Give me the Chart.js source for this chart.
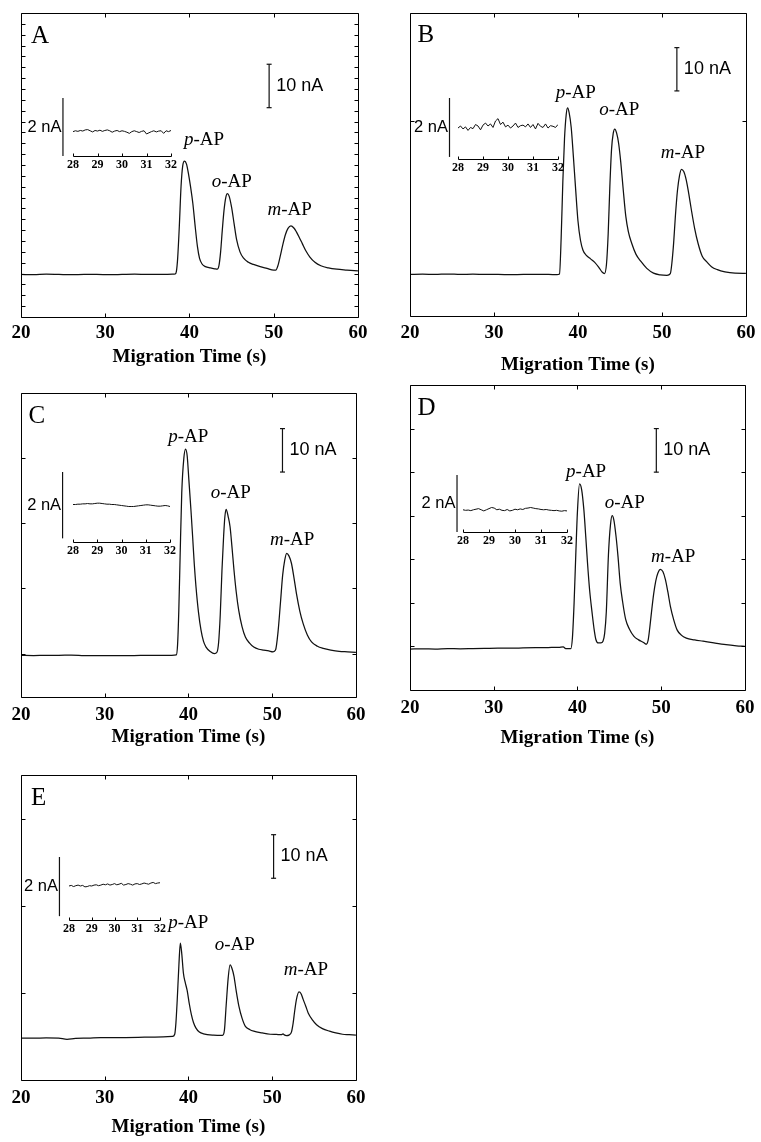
<!DOCTYPE html>
<html>
<head>
<meta charset="utf-8">
<title>Aminophenol electropherograms A-E</title>
<script src="https://cdn.jsdelivr.net/npm/chart.js@4.4.1/dist/chart.umd.min.js"></script>
<style>
  body { margin: 0; background: #fff; }
  #page { position: relative; width: 761px; height: 1142px; overflow: hidden; background: #fff; }
  #page canvas { position: absolute; }
</style>
</head>
<body>
<div id="page"></div>
<script>
// migration time (s) / current (nA)
const timeA = [20, 21.5, 23, 24.5, 26, 27.5, 29, 30.5, 32, 33.5, 35, 36.5, 38.0, 38.3, 38.45, 38.6, 38.8, 39.0, 39.2, 39.42, 39.65, 39.9, 40.13, 40.4, 40.7, 40.95, 41.2, 41.5, 41.9, 42.5, 43.0, 43.3, 43.5, 43.7, 43.9, 44.1, 44.3, 44.5, 44.7, 45.0, 45.3, 45.6, 46.0, 46.4, 47.0, 47.6, 48.4, 49.2, 50.0, 50.25, 50.5, 50.8, 51.1, 51.4, 51.7, 52.05, 52.4, 52.7, 53.0, 53.4, 53.8, 54.3, 54.9, 55.6, 56.5, 57.5, 58.7, 60.0];
const currentA = [9.8, 9.75, 9.85, 9.8, 9.75, 9.8, 9.8, 9.75, 9.8, 9.85, 9.8, 9.8, 9.85, 9.9, 10.5, 13.5, 21, 30, 34.8, 35.9, 35.2, 32.8, 30, 26.2, 20.5, 16.2, 13.5, 12.2, 11.6, 11.3, 11.1, 11.0, 11.8, 15.0, 20, 24.5, 27.4, 28.4, 27.9, 25.3, 21.5, 17.8, 15.0, 13.6, 12.6, 12.1, 11.6, 11.2, 10.8, 10.8, 11.8, 14.2, 16.8, 19.0, 20.4, 21.0, 20.5, 19.6, 18.5, 16.9, 15.3, 13.8, 12.6, 11.8, 11.3, 11.0, 10.8, 10.6];

const timeB = [20, 21.5, 23, 24.5, 26, 27.5, 29, 30.5, 32, 33.5, 35, 36.5, 37.5, 37.8, 38.0, 38.2, 38.4, 38.6, 38.76, 38.95, 39.2, 39.45, 39.7, 40.0, 40.3, 40.6, 41.0, 41.5, 42.0, 42.5, 42.9, 43.15, 43.4, 43.6, 43.8, 44.0, 44.2, 44.38, 44.6, 44.85, 45.1, 45.4, 45.7, 46.0, 46.4, 46.9, 47.5, 48.2, 49.0, 49.8, 50.6, 51.0, 51.2, 51.4, 51.6, 51.85, 52.1, 52.32, 52.6, 52.9, 53.2, 53.5, 53.9, 54.3, 54.8, 55.3, 55.9, 56.6, 57.5, 58.7, 60.0];
const currentB = [9.6, 9.65, 9.6, 9.7, 9.6, 9.65, 9.6, 9.6, 9.55, 9.6, 9.6, 9.6, 9.55, 9.7, 18, 31, 41, 46.5, 48.1, 47, 43.5, 37, 30, 22, 17.5, 15.2, 14, 13.2, 12.4, 11.2, 10.1, 9.8, 12, 19, 30, 38.5, 42.2, 43.2, 42.3, 39.8, 35.5, 29, 23, 19.5, 16.8, 14.3, 12.6, 11.0, 9.9, 9.5, 9.4, 9.8, 12.5, 17, 23, 29, 32.5, 33.9, 33.4, 31.4, 28.2, 24.6, 20.2, 16.8, 13.8, 12.6, 11.4, 10.7, 10.2, 9.9, 9.85];

const timeC = [20, 21.5, 23, 24.5, 26, 27.5, 29, 30.5, 32, 33.5, 35, 36.5, 38.0, 38.55, 38.7, 38.85, 39.0, 39.2, 39.45, 39.66, 39.85, 40.05, 40.3, 40.5, 40.7, 40.9, 41.2, 41.5, 41.8, 42.1, 42.6, 43.1, 43.4, 43.6, 43.8, 44.0, 44.2, 44.35, 44.5, 44.75, 44.97, 45.2, 45.44, 45.7, 46.0, 46.4, 46.8, 47.3, 47.8, 48.4, 49.0, 49.6, 50.1, 50.4, 50.7, 51.0, 51.25, 51.5, 51.73, 52.0, 52.3, 52.6, 52.9, 53.3, 53.7, 54.2, 54.7, 55.4, 56.1, 57.0, 58.0, 59.0, 60.0];
const currentC = [9.6, 9.55, 9.6, 9.6, 9.65, 9.55, 9.5, 9.5, 9.55, 9.55, 9.6, 9.6, 9.6, 9.7, 12, 20, 32, 47, 55, 57.1, 55.5, 50, 43, 36.9, 30.5, 25.4, 19.5, 15.4, 12.8, 11.5, 10.5, 10.0, 10.3, 12.5, 19, 29, 37, 41.5, 43.2, 41.5, 39.2, 34.5, 29.2, 24.3, 20, 16.2, 13.8, 12.4, 11.5, 11.0, 10.8, 10.6, 10.4, 10.8, 15, 22, 28, 31.5, 33.1, 32.5, 30.8, 27.5, 23.8, 19.8, 16.9, 14.3, 12.7, 11.7, 11.2, 10.8, 10.5, 10.4, 10.3];

const timeD = [20, 21.5, 23, 24.5, 26, 27.5, 29, 30.5, 32, 33.5, 35, 36.5, 37.8, 38.3, 38.6, 39.2, 39.4, 39.6, 39.8, 40.0, 40.25, 40.5, 40.76, 41.0, 41.2, 41.45, 41.75, 42.0, 42.2, 42.5, 42.8, 43.05, 43.25, 43.45, 43.7, 43.95, 44.15, 44.35, 44.6, 44.85, 45.1, 45.4, 45.76, 46.2, 46.75, 47.3, 47.9, 48.2, 48.45, 48.65, 48.85, 49.1, 49.35, 49.6, 49.9, 50.2, 50.5, 50.8, 51.1, 51.5, 51.9, 52.4, 53.0, 54.0, 55.0, 56.3, 57.75, 59.0, 60.0];
const currentD = [9.4, 9.45, 9.4, 9.5, 9.45, 9.5, 9.55, 9.6, 9.6, 9.65, 9.7, 9.75, 9.8, 9.9, 9.5, 9.5, 12, 20, 31, 41, 47.3, 46, 41.5, 35, 29.2, 23, 17.7, 13.8, 11.6, 10.8, 10.8, 11.2, 13, 18, 31, 38, 40, 39, 35.4, 30.5, 24.6, 20.2, 16.2, 14.0, 12.3, 11.5, 10.9, 10.5, 11.5, 14.5, 18, 22, 25, 26.8, 27.7, 27.2, 25.4, 22.5, 19.2, 16.1, 13.8, 12.6, 11.9, 11.5, 11.2, 10.8, 10.4, 10.15, 10.0];

const timeE = [20, 21.5, 23, 24.5, 25.5, 26.5, 28, 29.5, 31, 32.5, 34, 35.5, 37, 38.1, 38.36, 38.5, 38.65, 38.85, 39.03, 39.2, 39.4, 39.6, 39.85, 40.1, 40.35, 40.6, 40.9, 41.3, 41.8, 43.0, 44.07, 44.3, 44.5, 44.75, 44.97, 45.2, 45.44, 45.7, 46.03, 46.4, 46.8, 47.3, 47.8, 48.8, 49.77, 50.5, 51.1, 51.3, 51.45, 51.7, 52.0, 52.3, 52.5, 52.7, 52.9, 53.2, 53.45, 53.7, 54.0, 54.3, 54.8, 55.3, 56.0, 56.85, 57.6, 58.4, 59.2, 60.0];
const currentE = [9.6, 9.6, 9.65, 9.6, 9.35, 9.55, 9.6, 9.7, 9.7, 9.75, 9.8, 9.85, 9.9, 10.0, 10.5, 13, 18, 26, 31.4, 29, 24.5, 22.5, 20.5, 17.5, 15, 13.2, 11.9, 11.0, 10.6, 10.3, 10.25, 11.5, 17, 23.5, 26.4, 25.6, 23.8, 20.5, 16.9, 14.2, 12.3, 11.6, 11.2, 10.8, 10.5, 10.45, 10.4, 10.6, 10.35, 10.2, 10.3, 11.0, 13, 16, 18.5, 20.2, 19.8, 18.5, 17.0, 15.4, 13.8, 12.7, 11.8, 11.2, 10.8, 10.5, 10.4, 10.3];

// insets: baseline noise between 28 and 32 s (nA)
const insetTime = [28, 28.1, 28.2, 28.3, 28.4, 28.5, 28.6, 28.7, 28.8, 28.9, 29, 29.1, 29.2, 29.3, 29.4, 29.5, 29.6, 29.7, 29.8, 29.9, 30, 30.1, 30.2, 30.3, 30.4, 30.5, 30.6, 30.7, 30.8, 30.9, 31, 31.1, 31.2, 31.3, 31.4, 31.5, 31.6, 31.7, 31.8, 31.9, 32];
const insetA = [0.84, 0.87, 0.85, 0.88, 0.86, 0.90, 0.91, 0.87, 0.83, 0.88, 0.86, 0.89, 0.85, 0.88, 0.90, 0.87, 0.82, 0.86, 0.88, 0.84, 0.87, 0.85, 0.82, 0.78, 0.84, 0.87, 0.84, 0.81, 0.85, 0.87, 0.76, 0.80, 0.84, 0.87, 0.83, 0.86, 0.87, 0.78, 0.87, 0.84, 0.88];
const insetB = [0.98, 1.05, 0.95, 1.02, 0.90, 1.00, 0.96, 1.10, 1.05, 0.92, 1.08, 1.15, 1.05, 1.12, 1.00, 1.22, 1.30, 1.10, 1.18, 1.02, 1.08, 0.98, 1.05, 1.15, 1.00, 1.06, 1.08, 1.02, 1.12, 1.00, 1.10, 0.95, 1.14, 1.04, 1.00, 1.12, 0.98, 1.06, 1.04, 1.00, 1.10];
const insetC = [1.02, 1.02, 1.03, 1.03, 1.04, 1.04, 1.05, 1.04, 1.04, 1.05, 1.06, 1.06, 1.05, 1.04, 1.03, 1.03, 1.02, 1.02, 1.01, 1.00, 0.99, 0.98, 0.97, 0.96, 0.96, 0.96, 0.97, 0.98, 0.99, 1.00, 1.01, 1.01, 1.00, 0.99, 0.98, 0.97, 0.97, 0.98, 0.99, 0.98, 0.96];
const insetD = [0.78, 0.76, 0.77, 0.75, 0.78, 0.80, 0.82, 0.78, 0.74, 0.78, 0.82, 0.86, 0.84, 0.78, 0.80, 0.76, 0.75, 0.79, 0.74, 0.76, 0.80, 0.78, 0.81, 0.79, 0.83, 0.84, 0.86, 0.84, 0.82, 0.81, 0.79, 0.78, 0.79, 0.77, 0.76, 0.75, 0.76, 0.74, 0.73, 0.75, 0.74];
const insetE = [1.02, 1.04, 1.00, 1.03, 1.05, 1.02, 1.04, 0.99, 1.00, 1.03, 1.02, 1.05, 1.06, 1.03, 1.05, 1.08, 1.06, 1.09, 1.05, 1.07, 1.10, 1.06, 1.08, 1.11, 1.05, 1.07, 1.10, 1.08, 1.05, 1.09, 1.10, 1.07, 1.09, 1.12, 1.10, 1.08, 1.12, 1.14, 1.10, 1.12, 1.13];

// tick values
const xTicks = [20, 30, 40, 50, 60];
const insetTicks = [28, 29, 30, 31, 32];
const yTicksA = [2.5, 5, 7.5, 10, 12.5, 15, 17.5, 20, 22.5, 25, 27.5, 30, 32.5, 35, 37.5, 40, 42.5, 45, 47.5, 50, 52.5, 55, 57.5, 60, 62.5, 65, 67.5];
const yTicksB = [45];
const yTicksC = [10, 25, 40, 55];
const yTicksD = [10, 20, 30, 40, 50, 60];
const yTicksE = [20, 40, 60];

const SERIF = "'Liberation Serif', 'Times New Roman', serif";
const SANS = "'Liberation Sans', Arial, sans-serif";

// layout: plot box in page px [left, top, right, bottom], gaps to tick labels / title,
// 10 nA bar (time, bottom current), label anchors in data units
const panels = [
  { name: 'A', t: timeA, i: currentA, yTicks: yTicksA, box: [21, 13, 360, 317], tickGap: 16, titleGap: 40,
    bar: [49.46, 48.2], letter: [21.2, 64.7], peaks: [[39.35, 40.75], [42.65, 31.1], [49.26, 24.6]],
    inset: { v: insetA, box: [73, 98, 171, 156], yMin: 0, barT: 27.59 } },
  { name: 'B', t: timeB, i: currentB, yTicks: yTicksB, box: [410, 13, 749, 316], tickGap: 17, titleGap: 49,
    bar: [51.78, 52.0], letter: [20.9, 64.9], peaks: [[37.35, 51.5], [42.54, 47.6], [49.85, 37.6]],
    inset: { v: insetB, box: [458, 98, 558, 159], yMin: -0.07, barT: 27.66 } },
  { name: 'C', t: timeC, i: currentC, yTicks: yTicksC, box: [21, 393, 360, 697], tickGap: 18, titleGap: 40,
    bar: [51.23, 51.8], letter: [20.9, 64.5], peaks: [[37.58, 59.9], [42.65, 47.0], [49.73, 36.15]],
    inset: { v: insetC, box: [73, 472, 170, 542], yMin: -0.11, barT: 27.57 } },
  { name: 'D', t: timeD, i: currentD, yTicks: yTicksD, box: [410, 385, 749, 690], tickGap: 18, titleGap: 48,
    bar: [49.42, 50.0], letter: [20.9, 64.7], peaks: [[38.64, 50.0], [43.25, 42.9], [48.79, 30.5]],
    inset: { v: insetD, box: [463, 475, 567, 532], yMin: 0, barT: 27.77 } },
  { name: 'E', t: timeE, i: currentE, yTicks: yTicksE, box: [21, 775, 360, 1080], tickGap: 18, titleGap: 47,
    bar: [50.17, 46.3], letter: [21.2, 64.7], peaks: [[37.58, 36.0], [43.13, 31.0], [51.39, 25.2]],
    inset: { v: insetE, box: [69, 857, 160, 920], yMin: -0.13, barT: 27.58 } }
];

// frame, inward ticks and text labels, all placed through the chart scales
const decor = {
  id: 'decor',
  afterDatasetsDraw(chart, args, o) {
    const { ctx, chartArea: a, scales: { x, y } } = chart;
    const snap = v => Math.round(v) + 0.5;
    const l = snap(a.left), r = snap(a.right), t = snap(a.top), b = snap(a.bottom);
    ctx.save();
    ctx.strokeStyle = '#000';
    ctx.lineWidth = 1;
    ctx.beginPath();
    if (o.box) {
      ctx.rect(l, t, r - l, b - t);
    } else {
      ctx.moveTo(l, b); ctx.lineTo(r, b);
    }
    (o.xMarks || []).forEach(v => {
      const X = snap(x.getPixelForValue(v));
      ctx.moveTo(X, b); ctx.lineTo(X, b - o.tick);
      if (o.box) { ctx.moveTo(X, t); ctx.lineTo(X, t + o.tick); }
    });
    (o.yMarks || []).forEach(v => {
      const Y = snap(y.getPixelForValue(v));
      ctx.moveTo(l, Y); ctx.lineTo(l + o.tick, Y);
      ctx.moveTo(r, Y); ctx.lineTo(r - o.tick, Y);
    });
    ctx.stroke();

    ctx.fillStyle = '#000';
    ctx.textBaseline = 'middle';
    ctx.textAlign = 'left';
    (o.texts || []).forEach(tx => {
      let X = x.getPixelForValue(tx.x) + (tx.dx || 0);
      const Y = y.getPixelForValue(tx.y);
      if (tx.right) {
        let w = 0;
        tx.parts.forEach(([s, f]) => { ctx.font = f; w += ctx.measureText(s).width; });
        X -= w;
      }
      tx.parts.forEach(([s, f]) => {
        ctx.font = f;
        ctx.fillText(s, X, Y);
        X += ctx.measureText(s).width;
      });
    });
    ctx.restore();
  }
};

const page = document.getElementById('page');

function addCanvas(left, top, w, h) {
  const cv = document.createElement('canvas');
  cv.width = w; cv.height = h;
  cv.style.left = left + 'px'; cv.style.top = top + 'px';
  cv.style.width = w + 'px'; cv.style.height = h + 'px';
  page.appendChild(cv);
  return cv;
}

function peakLabel(pos, letter) {
  return { x: pos[0], y: pos[1], parts: [[letter, 'italic 19px ' + SERIF], ['-AP', '19px ' + SERIF]] };
}

function mainChart(p) {
  const [L, T, R, B] = p.box;
  const left = L - 21, top = T - 12;
  const w = R - L + 33, h = B + p.titleGap + 14 - top;
  const cv = addCanvas(left, top, w, h);
  new Chart(cv, {
    type: 'line',
    data: {
      datasets: [
        { data: p.t.map((t, k) => ({ x: t, y: p.i[k] })), borderColor: '#111', borderWidth: 1.25,
          pointRadius: 0, cubicInterpolationMode: 'monotone' },
        { data: [{ x: p.bar[0], y: p.bar[1] }, { x: p.bar[0], y: p.bar[1] + 10 }], borderColor: '#111',
          borderWidth: 1.2, pointStyle: 'line', pointRadius: 2.5, pointBorderColor: '#111', pointBorderWidth: 1.2 }
      ]
    },
    options: {
      responsive: false, animation: false, devicePixelRatio: 1,
      layout: { padding: { left: 21, top: 12, right: 12, bottom: 0 } },
      plugins: {
        legend: { display: false }, tooltip: { enabled: false },
        decor: {
          box: true, tick: 4, xMarks: xTicks, yMarks: p.yTicks,
          texts: [
            { x: p.letter[0], y: p.letter[1], parts: [[p.name, '25px ' + SERIF]] },
            { x: p.bar[0], dx: 7, y: p.bar[1] + 5, parts: [['10 nA', '18px ' + SANS]] },
            peakLabel(p.peaks[0], 'p'), peakLabel(p.peaks[1], 'o'), peakLabel(p.peaks[2], 'm')
          ]
        }
      },
      scales: {
        x: {
          type: 'linear', min: 20, max: 60,
          afterBuildTicks: s => { s.ticks = xTicks.map(v => ({ value: v })); },
          afterFit: s => { s.height = p.titleGap + 14; },
          grid: { display: false, drawTicks: false }, border: { display: false },
          ticks: { color: '#000', padding: p.tickGap - 11.4, font: { family: SERIF, size: 19, weight: 'bold' } },
          title: { display: true, text: 'Migration Time (s)', color: '#000', padding: { top: 0, bottom: 2.6 },
                   font: { family: SERIF, size: 19, weight: 'bold' } }
        },
        y: { type: 'linear', display: false, min: 0, max: 70 }
      }
    },
    plugins: [decor]
  });
}

function insetChart(p) {
  const q = p.inset;
  const [L, T, R, B] = q.box;
  const left = L - 50, top = T - 8;
  const w = R - L + 58, h = B - T + 8 + 18;
  const cv = addCanvas(left, top, w, h);
  new Chart(cv, {
    type: 'line',
    data: {
      datasets: [
        { data: insetTime.map((t, k) => ({ x: t, y: q.v[k] })), borderColor: '#111', borderWidth: 1,
          pointRadius: 0, tension: 0 },
        { data: [{ x: q.barT, y: 0 }, { x: q.barT, y: 2 }], clip: false, borderColor: '#111', borderWidth: 1.2,
          pointStyle: 'line', pointRadius: 1.5, pointBorderColor: '#111', pointBorderWidth: 1 }
      ]
    },
    options: {
      responsive: false, animation: false, devicePixelRatio: 1,
      layout: { padding: { left: 50, top: 8, right: 8, bottom: 0 } },
      plugins: {
        legend: { display: false }, tooltip: { enabled: false },
        decor: {
          box: false, tick: 3, xMarks: insetTicks,
          texts: [{ x: q.barT, dx: -1.5, y: 1, right: true, parts: [['2 nA', '16.5px ' + SANS]] }]
        }
      },
      scales: {
        x: {
          type: 'linear', min: 28, max: 32,
          afterBuildTicks: s => { s.ticks = insetTicks.map(v => ({ value: v })); },
          afterFit: s => { s.height = 18; },
          grid: { display: false, drawTicks: false }, border: { display: false },
          ticks: { color: '#000', padding: 1.5, autoSkip: false, font: { family: SERIF, size: 12, weight: 'bold' } }
        },
        y: { type: 'linear', display: false, min: q.yMin, max: 2 }
      }
    },
    plugins: [decor]
  });
}

panels.forEach(mainChart);
panels.forEach(insetChart);
</script>
</body>
</html>
